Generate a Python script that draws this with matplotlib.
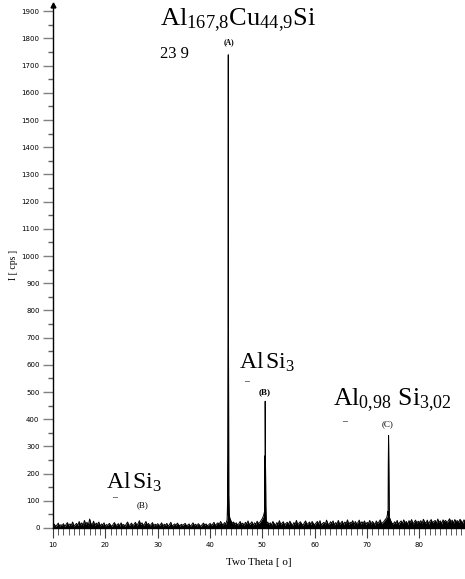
import numpy as np
import matplotlib
matplotlib.use("Agg")
import matplotlib.pyplot as plt

plt.rcParams['mathtext.fontset'] = 'custom'
plt.rcParams['mathtext.rm'] = 'Liberation Serif'
plt.rcParams['mathtext.it'] = 'Liberation Serif'

# ---- data ----
bg_start = 10.0
bg_step = 0.25
background = [
    8, 14, 6, 11, 18, 7, 12, 9, 16, 5, 13, 20, 8, 15, 10, 22, 7, 12, 17, 9,
    24, 11, 19, 8, 28, 14, 21, 10, 33, 16, 12, 25, 9, 18, 13, 22, 7, 15, 11, 19,
    6, 13, 9, 17, 11, 5, 14, 20, 8, 12, 16, 7, 19, 10, 13, 6, 15, 22, 9, 12,
    18, 8, 14, 21, 10, 16, 27, 12, 19, 9, 15, 24, 11, 17, 8, 13, 20, 7, 14, 10,
    16, 9, 12, 19, 7, 14, 10, 17, 6, 13, 21, 8, 11, 15, 9, 18, 12, 7, 14, 10,
    13, 17, 8, 11, 15, 6, 12, 19, 9, 14, 7, 16, 11, 5, 13, 18, 10, 15, 8, 12,
    17, 10, 14, 21, 9, 15, 19, 12, 24, 16, 11, 20, 14, 30, 45, 38, 26, 18, 22, 13,
    19, 11, 16, 24, 13, 18, 9, 21, 15, 26, 12, 17, 23, 10, 19, 14, 25, 16, 20, 28,
    35, 48, 30, 17, 22, 13, 19, 11, 24, 16, 9, 20, 14, 27, 12, 18, 23, 10, 17, 21,
    13, 25, 16, 9, 20, 14, 28, 11, 18, 23, 15, 10, 19, 26, 13, 17, 22, 12, 24, 16,
    11, 19, 24, 14, 27, 10, 17, 21, 13, 29, 16, 12, 23, 18, 26, 11, 20, 15, 28, 14,
    19, 25, 12, 22, 16, 30, 13, 21, 18, 27, 11, 24, 15, 20, 29, 14, 23, 17, 26, 12,
    21, 16, 28, 13, 24, 19, 11, 26, 17, 22, 30, 15, 20, 25, 32, 38, 48, 40, 27, 18,
    14, 23, 17, 28, 12, 21, 26, 16, 30, 19, 24, 13, 27, 20, 31, 15, 22, 29, 18, 25,
    20, 27, 16, 32, 22, 18, 29, 14, 25, 31, 19, 24, 28, 17, 33, 21, 26, 15, 30, 23,
    28, 19, 26, 34, 22, 29, 17, 31, 24, 27, 20, 32, 25, 18, 30, 23, 28, 21, 26, 24,
]
peak_theta = [43.30, 43.36, 43.40, 43.45, 43.48, 43.52, 43.58, 43.66,
              50.40, 50.47, 50.53, 50.58, 50.66,
              73.98, 74.04, 74.10, 74.15, 74.22]
peak_int = [60, 120, 270, 715, 1740, 715, 120, 55,
            60, 265, 466, 260, 80,
            60, 232, 340, 230, 70]

y_ticks = list(range(0, 2000, 100))
x_ticks = list(range(10, 90, 10))

# ---- build profile ----
bg_theta = bg_start + bg_step * np.arange(len(background))
theta = np.concatenate([bg_theta, peak_theta])
inten = np.concatenate([background, peak_int])
order = np.argsort(theta)
theta = theta[order]
inten = inten[order]

W, H = 465, 579
fig = plt.figure(figsize=(W / 100, H / 100), dpi=100)
ax = fig.add_axes([53 / W, 1 - 528 / H, 1 - 53 / W, (528 - 5) / H])

ax.fill_between(theta, 0, inten, color='black', lw=0)
ax.plot(theta, inten, color='black', lw=0.7)

ax.set_xlim(10, 88.7)
ax.set_ylim(0, 1923)
for s in ['top', 'right']:
    ax.spines[s].set_visible(False)
ax.spines['left'].set_linewidth(1.0)
ax.spines['bottom'].set_linewidth(1.0)

ax.set_yticks(y_ticks)
ax.set_yticklabels([str(v) for v in y_ticks])
ax.set_yticks(np.arange(50, 1950, 100), minor=True)
ax.set_xticks(x_ticks)
ax.set_xticklabels([str(v) for v in x_ticks])
ax.set_xticks(np.arange(10, 89, 1), minor=True)
ax.tick_params(axis='y', which='major', length=7.2, width=1, color='#808080',
               labelsize=5, pad=2.5)
ax.tick_params(axis='y', which='minor', length=3.6, width=1, color='#606060')
ax.tick_params(axis='x', which='major', length=7.2, width=0.8, color='#404040',
               labelsize=5, pad=3)
ax.tick_params(axis='x', which='minor', length=5, width=0.6, color='#404040')

# arrow at top of y axis
ax.plot([10], [1923], marker='^', color='black', markersize=3.5, clip_on=False)

ax.set_xlabel('Two Theta [ o]', family='Liberation Serif', fontsize=8, labelpad=7)
fig.text(13 / W, 1 - 265 / H, 'I [ cps ]', family='Liberation Serif', fontsize=7,
         rotation=90, ha='center', va='center')

def ftext(x, y, s, **kw):
    fig.text(x / W, 1 - y / H, s, **kw)

serif = 'Liberation Serif'
ftext(160, 25, r'$\mathrm{Al}_{167{,}8}\mathrm{Cu}_{44{,}9}\mathrm{Si}$', fontsize=19,
      ha='left', va='baseline')
ftext(160, 58, '23 9', family=serif, fontsize=12, ha='left', va='baseline')
ftext(229, 44, '(A)', family=serif, fontsize=5.5, weight='bold', ha='center', va='baseline')

ftext(239, 369, r'$\mathrm{Al\,Si}_{3}$', fontsize=17, ha='left', va='baseline')
ftext(246, 384, '–', family=serif, fontsize=7, ha='center', va='baseline')
ftext(265, 394, '(B)', family=serif, fontsize=6.5, weight='bold', ha='center', va='baseline')

ftext(333, 405, r'$\mathrm{Al}_{0{,}98}\ \mathrm{Si}_{3{,}02}$', fontsize=18.5,
      ha='left', va='baseline')
ftext(344, 424, '–', family=serif, fontsize=7, ha='center', va='baseline')
ftext(388, 426, '(C)', family=serif, fontsize=6.5, ha='center', va='baseline')

ftext(106, 489, r'$\mathrm{Al\,Si}_{3}$', fontsize=17, ha='left', va='baseline')
ftext(114, 500, '–', family=serif, fontsize=7, ha='center', va='baseline')
ftext(143, 507, '(B)', family=serif, fontsize=6.5, ha='center', va='baseline')

fig.savefig('out.png', dpi=100)
